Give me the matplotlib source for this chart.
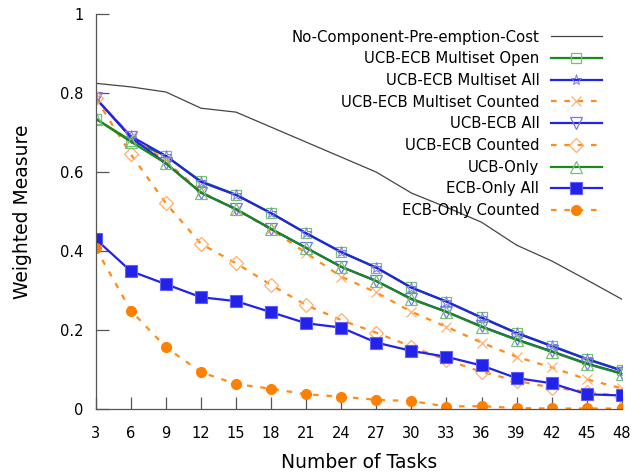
import matplotlib
matplotlib.use("Agg")
import matplotlib.pyplot as plt
from matplotlib.ticker import FixedLocator

tasks = [3, 6, 9, 12, 15, 18, 21, 24, 27, 30, 33, 36, 39, 42, 45, 48]

no_preempt_cost = [0.825, 0.816, 0.803, 0.762, 0.752, 0.714, 0.676, 0.638, 0.600,
                   0.547, 0.511, 0.473, 0.415, 0.375, 0.327, 0.278]
multiset_open = [0.735, 0.680, 0.641, 0.577, 0.543, 0.496, 0.445, 0.398, 0.358,
                 0.308, 0.272, 0.232, 0.193, 0.160, 0.127, 0.098]
multiset_all = [0.787, 0.691, 0.641, 0.575, 0.542, 0.496, 0.445, 0.397, 0.358,
                0.307, 0.272, 0.231, 0.192, 0.159, 0.126, 0.097]
multiset_counted = [0.787, 0.689, 0.628, 0.550, 0.505, 0.455, 0.395, 0.335, 0.295,
                    0.246, 0.208, 0.168, 0.132, 0.105, 0.075, 0.052]
ucb_ecb_all = [0.787, 0.688, 0.622, 0.548, 0.506, 0.456, 0.408, 0.360, 0.324,
               0.279, 0.246, 0.209, 0.176, 0.146, 0.115, 0.090]
ucb_ecb_counted = [0.787, 0.645, 0.521, 0.418, 0.369, 0.314, 0.263, 0.225, 0.193,
                   0.158, 0.124, 0.094, 0.071, 0.054, 0.044, 0.031]
ucb_only = [0.735, 0.677, 0.622, 0.548, 0.506, 0.456, 0.408, 0.360, 0.324,
            0.278, 0.246, 0.208, 0.175, 0.145, 0.114, 0.089]
ecb_only_all = [0.430, 0.349, 0.316, 0.283, 0.273, 0.245, 0.217, 0.206, 0.168,
                0.147, 0.132, 0.110, 0.078, 0.065, 0.037, 0.034]
ecb_only_counted = [0.407, 0.249, 0.156, 0.093, 0.063, 0.051, 0.037, 0.031, 0.023,
                    0.020, 0.006, 0.007, 0.002, 0.001, 0.001, 0.001]

green = "#1a8a1a"
blue = "#2222e8"
orange = "#ff8c1a"
dash = (0, (2.5, 3.5))

fig = plt.figure(figsize=(6.43, 4.76), dpi=100)
ax = fig.add_axes([0.149, 0.141, 0.818, 0.829])

ax.plot(tasks, no_preempt_cost, color="#444444", lw=0.9,
        label="No-Component-Pre-emption-Cost")
ax.plot(tasks, multiset_open, color=green, lw=1.6, marker="s", ms=7,
        mfc="none", mec="#77c077", mew=0.9, label="UCB-ECB Multiset Open")
ax.plot(tasks, multiset_all, color=blue, lw=1.6, marker="*", ms=8,
        mfc="none", mec="#7777ee", mew=0.7, label="UCB-ECB Multiset All")
ax.plot(tasks, multiset_counted, color=orange, lw=1.6, ls=dash, marker="x", ms=7,
        mec="#ffb070", mew=0.9, label="UCB-ECB Multiset Counted")
ax.plot(tasks, ucb_ecb_all, color=blue, lw=1.6, marker="v", ms=8,
        mfc="none", mec="#7777ee", mew=0.9, label="UCB-ECB All")
ax.plot(tasks, ucb_ecb_counted, color=orange, lw=1.6, ls=dash, marker="D", ms=7,
        mfc="none", mec="#ffb070", mew=0.9, label="UCB-ECB Counted")
ax.plot(tasks, ucb_only, color=green, lw=1.6, marker="^", ms=8,
        mfc="none", mec="#77c077", mew=0.9, label="UCB-Only")
ax.plot(tasks, ecb_only_all, color=blue, lw=1.6, marker="s", ms=8,
        mfc=blue, mec="#6060ff", mew=0.8, label="ECB-Only All")
ax.plot(tasks, ecb_only_counted, color=orange, lw=1.6, ls=dash, marker="o", ms=7,
        mfc="#ff8000", mec="#ff8000", label="ECB-Only Counted")

ax.set_xlim(3, 48)
ax.set_ylim(0, 1)
ax.xaxis.set_major_locator(FixedLocator(tasks))
ax.set_yticks([0, 0.2, 0.4, 0.6, 0.8, 1.0], ["0", "0.2", "0.4", "0.6", "0.8", "1"])
ax.tick_params(direction="in", length=9, width=0.9, color="#555555",
               labelsize=10.5, pad=12)
ax.tick_params(axis="y", pad=9)

for side in ["top", "right"]:
    ax.spines[side].set_visible(False)
for side in ["left", "bottom"]:
    ax.spines[side].set_color("#555555")
    ax.spines[side].set_linewidth(0.9)

ax.set_xlabel("Number of Tasks", fontsize=13.5, labelpad=9)
ax.set_ylabel("Weighted Measure", fontsize=13.5, labelpad=20)

leg = ax.legend(loc="upper right", bbox_to_anchor=(0.976, 0.98), frameon=False,
                markerfirst=False, fontsize=10.7, handlelength=3.4,
                handletextpad=0.8, labelspacing=0.45, borderpad=0.0)
for t in leg.get_texts():
    t.set_ha("right")
leg._legend_box.align = "right"

fig.savefig("out.png", dpi=100)
